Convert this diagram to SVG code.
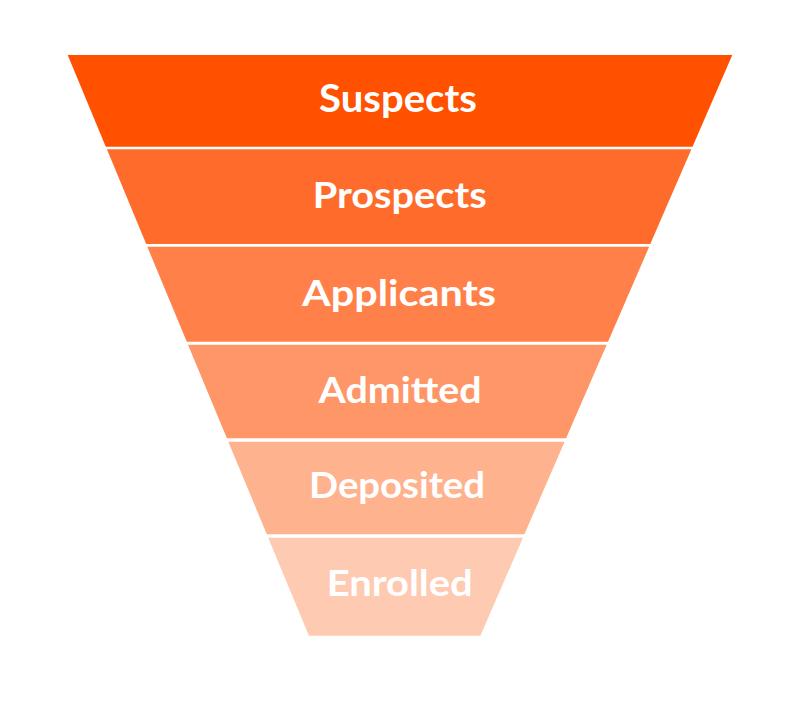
<svg xmlns="http://www.w3.org/2000/svg" width="800" height="707" viewBox="0 0 800 707">
<style>
.lbl{font-family:"Lato","Open Sans","Liberation Sans",sans-serif;font-weight:700;font-size:36px;fill:#ffffff;text-anchor:middle}
</style>
<rect width="800" height="707" fill="#ffffff"/>
<g id="suspects"><polygon points="67.7,55 732.3,55 692.5,146.7 105.8,146.7" fill="#FF5100"/><text class="lbl" x="398" y="112" style="font-size:38px" textLength="158" lengthAdjust="spacingAndGlyphs">Suspects</text></g>
<g id="prospects"><polygon points="106.9,149.3 691.4,149.3 650.3,244 146.2,244" fill="#FF6B2B"/><text class="lbl" x="399.7" y="208.3" textLength="174" lengthAdjust="spacingAndGlyphs">Prospects</text></g>
<g id="applicants"><polygon points="147.3,246.7 649.2,246.7 608,341.7 186.8,341.7" fill="#FF8049"/><text class="lbl" x="399" y="306" textLength="194" lengthAdjust="spacingAndGlyphs">Applicants</text></g>
<g id="admitted"><polygon points="188,344.7 606.7,344.7 566.1,438.3 226.9,438.3" fill="#FF9668"/><text class="lbl" x="400" y="403.3" textLength="163" lengthAdjust="spacingAndGlyphs">Admitted</text></g>
<g id="deposited"><polygon points="228.3,441.7 564.6,441.7 524.4,534.3 266.8,534.3" fill="#FFB28E"/><text class="lbl" x="397" y="497.7" textLength="176" lengthAdjust="spacingAndGlyphs">Deposited</text></g>
<g id="enrolled"><polygon points="268.2,537.7 523,537.7 480.4,635.7 308.9,635.7" fill="#FFCAB2"/><text class="lbl" x="399.7" y="596" textLength="146" lengthAdjust="spacingAndGlyphs">Enrolled</text></g>
<g id="connectors"/>
</svg>
